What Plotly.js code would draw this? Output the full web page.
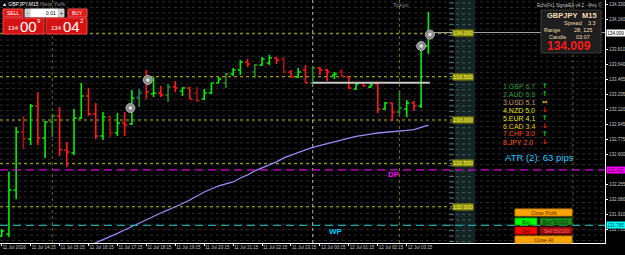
<!DOCTYPE html>
<html><head><meta charset="utf-8">
<script src="https://cdn.plot.ly/plotly-3.0.1.min.js"></script>
<style>html,body{margin:0;padding:0;background:#000;overflow:hidden}#chart{width:625px;height:255px}</style>
</head><body><div id="chart"></div>
<script>
// ---------- data ----------
const barTimes = [
 "11 Jul 13:15","11 Jul 13:30","11 Jul 13:45","11 Jul 14:00","11 Jul 14:15","11 Jul 14:30","11 Jul 14:45","11 Jul 15:00",
 "11 Jul 15:15","11 Jul 15:30","11 Jul 15:45","11 Jul 16:00","11 Jul 16:15","11 Jul 16:30","11 Jul 16:45","11 Jul 17:00",
 "11 Jul 17:15","11 Jul 17:30","11 Jul 17:45","11 Jul 18:00","11 Jul 18:15","11 Jul 18:30","11 Jul 18:45","11 Jul 19:00",
 "11 Jul 19:15","11 Jul 19:30","11 Jul 19:45","11 Jul 20:00","11 Jul 20:15","11 Jul 20:30","11 Jul 20:45","11 Jul 21:00",
 "11 Jul 21:15","11 Jul 21:30","11 Jul 21:45","11 Jul 22:00","11 Jul 22:15","11 Jul 22:30","11 Jul 22:45","11 Jul 23:00",
 "11 Jul 23:15","11 Jul 23:30","11 Jul 23:45","12 Jul 00:00","12 Jul 00:15","12 Jul 00:30","12 Jul 00:45","12 Jul 01:00",
 "12 Jul 01:15","12 Jul 01:30","12 Jul 01:45","12 Jul 02:00","12 Jul 02:15","12 Jul 02:30","12 Jul 02:45","12 Jul 03:00",
 "12 Jul 03:15","12 Jul 03:30","12 Jul 03:45","12 Jul 04:00"];
const openP = [
131.662,131.685,132.193,132.862,132.781,133.161,132.792,132.977,133.046,132.654,
132.619,133.023,133.277,133.069,132.815,133.035,132.850,132.965,132.954,133.254,
133.473,133.300,133.311,133.288,133.381,133.334,133.369,133.311,133.242,133.311,
133.427,133.427,133.530,133.577,133.669,133.554,133.634,133.657,133.715,133.703,
133.554,133.496,133.577,133.427,133.600,133.577,133.519,133.554,133.496,133.357,
133.427,133.381,133.415,133.127,133.196,133.092,133.127,133.196,133.161,133.853];
const highP = [
131.743,132.404,132.919,133.046,133.184,133.323,132.988,133.069,133.150,132.746,
133.127,133.427,133.369,133.196,133.092,133.046,133.081,133.092,133.346,133.357,
133.577,133.496,133.392,133.415,133.450,133.381,133.381,133.381,133.357,133.427,
133.496,133.542,133.600,133.692,133.703,133.646,133.727,133.750,133.727,133.727,
133.577,133.600,133.634,133.611,133.611,133.588,133.554,133.588,133.496,133.438,
133.438,133.427,133.427,133.208,133.196,133.334,133.231,133.219,133.888,134.246];
const lowP = [
131.650,131.650,132.089,132.665,132.712,132.712,132.562,132.804,132.585,132.458,
132.596,133.011,133.046,132.781,132.769,132.804,132.815,132.815,132.942,133.150,
133.242,133.265,133.265,133.208,133.323,133.277,133.242,133.208,133.231,133.300,
133.427,133.369,133.507,133.519,133.611,133.484,133.623,133.634,133.646,133.542,
133.496,133.484,133.427,133.404,133.519,133.450,133.473,133.496,133.357,133.346,
133.392,133.369,133.081,133.115,132.988,133.058,133.035,133.104,133.138,133.761];
const closeP = [
131.720,132.193,132.862,132.781,133.161,132.792,132.977,133.046,132.654,132.631,
133.023,133.277,133.069,132.815,133.035,132.850,132.965,132.942,133.254,133.311,
133.323,133.311,133.288,133.381,133.369,133.369,133.242,133.219,133.311,133.427,
133.473,133.530,133.577,133.669,133.646,133.634,133.703,133.715,133.692,133.554,
133.496,133.554,133.427,133.600,133.577,133.554,133.530,133.507,133.369,133.415,
133.392,133.404,133.127,133.196,133.092,133.138,133.196,133.161,133.853,134.009];
// bars drawn in the darker shade (full-hour bars)
const darkBars = ["11 Jul 14:00","11 Jul 15:00","11 Jul 17:00","11 Jul 18:00","11 Jul 19:00","11 Jul 20:00","11 Jul 21:00",
 "11 Jul 22:00","11 Jul 23:00","12 Jul 00:00","12 Jul 01:00","12 Jul 03:00"];
const maValues = [null,null,null,null,null,null,null,null,null,null,null,
131.512,131.547,131.581,131.616,131.650,131.691,131.731,131.772,131.812,131.852,
131.893,131.927,131.962,131.996,132.037,132.077,132.123,132.169,132.204,132.239,
132.262,132.285,132.331,132.366,132.412,132.446,132.481,132.516,132.562,132.590,
132.619,132.654,132.683,132.706,132.729,132.752,132.775,132.792,132.810,132.827,
132.838,132.850,132.856,132.862,132.873,132.879,132.890,132.913,132.942];
const tickTimes  = ["11 Jul 13:15","11 Jul 14:15","11 Jul 15:15","11 Jul 16:15","11 Jul 17:15","11 Jul 18:15","11 Jul 19:15",
 "11 Jul 20:15","11 Jul 21:15","11 Jul 22:15","11 Jul 23:15","12 Jul 00:15","12 Jul 01:15","12 Jul 02:15","12 Jul 03:15"];
const tickLabels = ["11 Jul 2016","11 Jul 14:15","11 Jul 15:15","11 Jul 16:15","11 Jul 17:15","11 Jul 18:15","11 Jul 19:15",
 "11 Jul 20:15","11 Jul 21:15","11 Jul 22:15","11 Jul 23:15","12 Jul 00:15","12 Jul 01:15","12 Jul 02:15","12 Jul 03:15"];
const priceTicks = [134.330,134.160,133.810,133.640,133.465,133.295,133.120,132.945,132.775,132.600,132.255,132.080,131.910,131.735,131.565];
const roundLevels = [134.000,133.500,133.000,132.500,132.000];
const roundLabels = ["134.000","133.500","133.000","132.500","132.000"];
const dpLevel = 132.425, wpLevel = 131.785;
const bidPrice = 134.009;
const hLineLevel = 133.430;
const sessionLines = ["11 Jul 15:00","12 Jul 03:00"];
const daySeparator = "12 Jul 00:00";
const tradeX = [17.8, 20.2, 58.0, 59.2];
const tradeY = [133.138, 133.461, 133.853, 133.985];
const strengthCur = ["GBP","AUD","USD","NZD","EUR","CAD","CHF","JPY"];
const strengthVal = [6.7,6.6,5.1,5.0,4.1,3.4,3.0,2.0];
const strengthDir = ["up","up","flat","down","up","down","up","down"];
const strengthCol = ["#2f9f2f","#2f9f2f","#c8a070","#e6e600","#e6e600","#e6c800","#ff4a10","#ff5a20"];
const atrText = "ATR (2): 63 pips";
const infoPanel = {symbol:"GBPJPY", tf:"M15", spread:"3.3", range:"28, 125", candle:"03:07", price:"134.009"};

// ---------- helpers for pixel-placed decorations ----------
const W = 605, H = 243;
const px = x => x / W;
const py = y => (H - y) / H;
const idx = t => barTimes.indexOf(t);
const xs = barTimes.map((t, i) => i);

const isDark = barTimes.map(t => darkBars.includes(t));
function pick(arr, dark) { return arr.map((v, i) => (isDark[i] === dark ? v : null)); }

const traces = [
  {type:'scatter', mode:'lines', x:xs, y:maValues, line:{color:'#9d88f2', width:1.3}, hoverinfo:'skip', showlegend:false},
  {type:'ohlc', x:xs, open:pick(openP,false), high:pick(highP,false), low:pick(lowP,false), close:pick(closeP,false),
   increasing:{line:{color:'#00ee00', width:1.6}}, decreasing:{line:{color:'#ff1a1a', width:1.6}}, tickwidth:0.36, showlegend:false},
  {type:'ohlc', x:xs, open:pick(openP,true), high:pick(highP,true), low:pick(lowP,true), close:pick(closeP,true),
   increasing:{line:{color:'#2b8f2b', width:1.6}}, decreasing:{line:{color:'#a81414', width:1.6}}, tickwidth:0.36, showlegend:false},
  {type:'scatter', mode:'lines', x:tradeX.slice(0,2), y:tradeY.slice(0,2), line:{color:'#2030c0', width:1, dash:'dot'}, showlegend:false, hoverinfo:'skip'},
  {type:'scatter', mode:'lines', x:tradeX.slice(2,4), y:tradeY.slice(2,4), line:{color:'#2030c0', width:1, dash:'dot'}, showlegend:false, hoverinfo:'skip'},
  {type:'scatter', mode:'markers', x:tradeX, y:tradeY, marker:{size:9, color:'#8a8a8a', line:{color:'#b0b0b0', width:1}}, showlegend:false, hoverinfo:'skip'},
  {type:'scatter', mode:'markers', x:tradeX, y:tradeY, marker:{size:3.5, color:'#e8e8e8'}, showlegend:false, hoverinfo:'skip'}
];

const shapes = [];
// faint dotted background rows
for (let y = 2; y < H; y += 5.42) {
  shapes.push({type:'line', xref:'paper', yref:'paper', x0:0, x1:1, y0:py(y), y1:py(y), line:{color:'#2c2c2c', width:1, dash:'dot'}, layer:'below'});
}
// level column
shapes.push({type:'rect', xref:'paper', yref:'paper', x0:px(455), x1:px(475), y0:0, y1:1, fillcolor:'#142424', line:{width:0}, layer:'below'});
for (let y = 3; y < H; y += 5.42) {
  shapes.push({type:'line', xref:'paper', yref:'paper', x0:px(456), x1:px(474), y0:py(y), y1:py(y), line:{color:'#3e5c5c', width:1, dash:'dot'}, layer:'below'});
  shapes.push({type:'line', xref:'paper', yref:'paper', x0:px(449), x1:px(454), y0:py(y), y1:py(y), line:{color:'#557575', width:1}, layer:'below'});
}
// round levels
roundLevels.forEach(v => {
  shapes.push({type:'line', xref:'paper', yref:'y', x0:0, x1:px(452), y0:v, y1:v, line:{color:'#b4b400', width:1, dash:'dot'}, layer:'below'});
});
// vertical session lines
sessionLines.forEach(t => shapes.push({type:'line', xref:'x', yref:'paper', x0:idx(t), x1:idx(t), y0:0, y1:1, line:{color:'#6e6e10', width:1, dash:'dot'}, layer:'below'}));
shapes.push({type:'line', xref:'x', yref:'paper', x0:79, x1:79, y0:0, y1:1, line:{color:'#5a5a10', width:1, dash:'dot'}, layer:'below'});
shapes.push({type:'line', xref:'x', yref:'paper', x0:idx(daySeparator), x1:idx(daySeparator), y0:0, y1:1, line:{color:'#b0b0b0', width:1, dash:'dot'}, layer:'below'});
// DP / WP
shapes.push({type:'line', xref:'paper', yref:'y', x0:0, x1:1, y0:dpLevel, y1:dpLevel, line:{color:'#d000d0', width:1.3, dash:'8px,5px'}});
shapes.push({type:'line', xref:'paper', yref:'y', x0:0, x1:1, y0:wpLevel, y1:wpLevel, line:{color:'#1fa3a3', width:1.3, dash:'8px,5px'}});
// bid line and grey horizontal line
shapes.push({type:'line', xref:'paper', yref:'y', x0:px(430), x1:1, y0:bidPrice, y1:bidPrice, line:{color:'#a0a0a0', width:1}});
shapes.push({type:'line', xref:'x', yref:'y', x0:idx(daySeparator), x1:59.2, y0:hLineLevel, y1:hLineLevel, line:{color:'#c8c8c8', width:2}});

const ann = [];
function txt(x, y, text, size, color, opts) {
  ann.push(Object.assign({xref:'paper', yref:'paper', x:px(x), y:py(y), text:text, showarrow:false, xanchor:'left', yanchor:'middle',
    font:{size:size, color:color, family:'Liberation Sans, Arial, sans-serif'}, borderpad:0}, opts || {}));
}
function rect(x0, y0, x1, y1, fill, line) {
  shapes.push({type:'rect', xref:'paper', yref:'paper', x0:px(x0), x1:px(x1), y0:py(y1), y1:py(y0), fillcolor:fill, line:{color:line || fill, width:1}, layer:'above'});
}

// round level labels
roundLevels.forEach((v, i) => {
  ann.push({xref:'paper', yref:'y', x:px(452), y:v, text:roundLabels[i], showarrow:false, xanchor:'left', yanchor:'middle',
    bgcolor:'#8c8c00', font:{size:5.5, color:'#f4f47a', family:'Liberation Sans, Arial'}, borderpad:0});
});

// top-left trade panel
txt(1, 4, "▲ GBPJPY,M15", 5, '#ffffff');
txt(39, 4.5, "New York", 6, '#8c8c8c');
rect(3, 9, 23, 17, '#e01a1a', '#ff5050'); txt(13, 13, "SELL", 5, '#ffffff', {xanchor:'center'});
rect(25, 9, 31, 17, '#d0d0d0'); txt(28, 13, "-", 5, '#000000', {xanchor:'center'});
rect(31, 9, 58, 17, '#ffffff'); txt(57, 13, "0.01", 5, '#000000', {xanchor:'right'});
rect(58, 9, 64, 17, '#d0d0d0'); txt(61, 13, "+", 5, '#000000', {xanchor:'center'});
rect(68, 9, 87, 17, '#e01a1a', '#ff5050'); txt(77.5, 13, "BUY", 5, '#ffffff', {xanchor:'center'});
rect(3, 18, 44, 34, '#d41212', '#ff4040');
rect(46, 18, 87, 34, '#d41212', '#ff4040');
txt(7, 28.5, "134", 6, '#ffffff'); txt(19, 26.5, "00", 15, '#ffffff'); txt(36, 21.5, "9", 6, '#ffffff');
txt(50, 28.5, "134", 6, '#ffffff'); txt(62, 26.5, "04", 15, '#ffffff'); txt(79, 21.5, "2", 6, '#ffffff');

// top-right
txt(392, 5, "Tokyo", 6, '#8c8c8c');
txt(536, 5, "EchoFx1 SignalEA v4.2 - 4hrs ©", 4.5, '#c8c8c8');
rect(541, 10, 601, 53, '#1e1e1e', '#3a3a3a');
txt(546, 15.5, infoPanel.symbol, 7.5, '#f4dcb4', {font:{size:7.5, color:'#f4dcb4', family:'Liberation Sans, Arial', weight:'bold'}});
txt(598, 15.5, infoPanel.tf, 7.5, '#f4dcb4', {xanchor:'right', font:{size:7.5, color:'#f4dcb4', family:'Liberation Sans, Arial', weight:'bold'}});
txt(583, 23, "Spread", 5.5, '#f4dcb4', {xanchor:'right'}); txt(587, 23, infoPanel.spread, 5.5, '#f4dcb4');
txt(543, 30, "Range", 5.5, '#f4dcb4'); txt(593, 30, infoPanel.range, 5.5, '#f4dcb4', {xanchor:'right'});
txt(548, 37, "Candle", 5.5, '#f4dcb4'); txt(591, 37, infoPanel.candle, 5.5, '#f4dcb4', {xanchor:'right'});
txt(569, 46.5, infoPanel.price, 12, '#ff1a1a', {xanchor:'center', font:{size:12, color:'#ff1a1a', family:'Liberation Sans, Arial', weight:'bold'}});

// currency strength
const arrowChar = {up:'↑', down:'↓', flat:'⇔'};
const arrowCol = {up:'#00e000', down:'#ff2020', flat:'#e0c000'};
strengthCur.forEach((c, i) => {
  const y = 86 + i * 8;
  txt(502, y, (i + 1) + "." + c + " " + strengthVal[i].toFixed(1), 7, strengthCol[i]);
  txt(541, y, arrowChar[strengthDir[i]], 6.5, arrowCol[strengthDir[i]], {font:{size:6.5, color:arrowCol[strengthDir[i]], family:'DejaVu Sans', weight:'bold'}});
});
txt(504, 158, atrText, 9.5, '#35c8ff');

// DP / WP labels
txt(387, 174, "DP", 8, '#ff00ff', {font:{size:8, color:'#ff00ff', family:'Liberation Sans, Arial', weight:'bold'}});
txt(328, 231, "WP", 8, '#00ccff', {font:{size:8, color:'#00ccff', family:'Liberation Sans, Arial', weight:'bold'}});

// buttons
rect(515, 209, 572, 216, '#ffa500', '#d08000'); txt(543.5, 212.5, "Close Profit", 5, '#5a2800', {xanchor:'center'});
rect(515, 218, 537, 225, '#00ff00', '#00b000'); txt(526, 221.5, "Buy", 5, '#004000', {xanchor:'center'});
rect(540, 218, 572, 225, '#1c8a1c', '#106010'); txt(556, 221.5, "Buy 50/100", 5, '#003a00', {xanchor:'center'});
rect(515, 227, 537, 234, '#ff0000', '#b00000'); txt(526, 230.5, "Sell", 5, '#400000', {xanchor:'center'});
rect(540, 227, 572, 234, '#a01010', '#700000'); txt(556, 230.5, "Sell 50/100", 5, '#ff6060', {xanchor:'center'});
rect(515, 236, 572, 243, '#ffa500', '#d08000'); txt(543.5, 239.5, "Close All", 5, '#5a2800', {xanchor:'center'});

// price boxes on the right axis
function axisBox(v, bg, fg) {
  ann.push({xref:'paper', yref:'y', x:px(605.5), y:v, text:v.toFixed(3), showarrow:false, xanchor:'left', yanchor:'middle',
    bgcolor:bg, font:{size:4.5, color:fg, family:'Liberation Sans, Arial'}, borderpad:0.5});
}
axisBox(bidPrice, '#ffffff', '#000000');
axisBox(dpLevel, '#ff00ff', '#400040');
axisBox(wpLevel, '#00ffff', '#004040');

const layout = {
  width:625, height:255,
  margin:{l:0, r:20, t:0, b:12, pad:0},
  paper_bgcolor:'#000000', plot_bgcolor:'#000000',
  showlegend:false,
  xaxis:{type:'linear', range:[-0.235, 83.42], showgrid:false, zeroline:false, showline:true, linecolor:'#ffffff', linewidth:1,
    ticks:'outside', ticklen:2, tickcolor:'#ffffff', tickvals:tickTimes.map(idx), ticktext:tickLabels, tickangle:0, automargin:false,
    tickfont:{size:4.5, color:'#c8c8c8', family:'Liberation Sans, Arial'}, ticklabelposition:'outside right', rangeslider:{visible:false}, fixedrange:true},
  yaxis:{side:'right', range:[131.581, 134.384], showgrid:false, zeroline:false, showline:true, linecolor:'#ffffff', linewidth:1, automargin:false,
    ticks:'outside', ticklen:2, tickcolor:'#ffffff', tickvals:priceTicks, ticktext:priceTicks.map(v => v.toFixed(3)), ticklabelstandoff:0,
    tickfont:{size:4.5, color:'#c8c8c8', family:'Liberation Sans, Arial'}, fixedrange:true},
  shapes:shapes, annotations:ann
};
Plotly.newPlot('chart', traces, layout, {displayModeBar:false, staticPlot:true});
</script></body></html>
